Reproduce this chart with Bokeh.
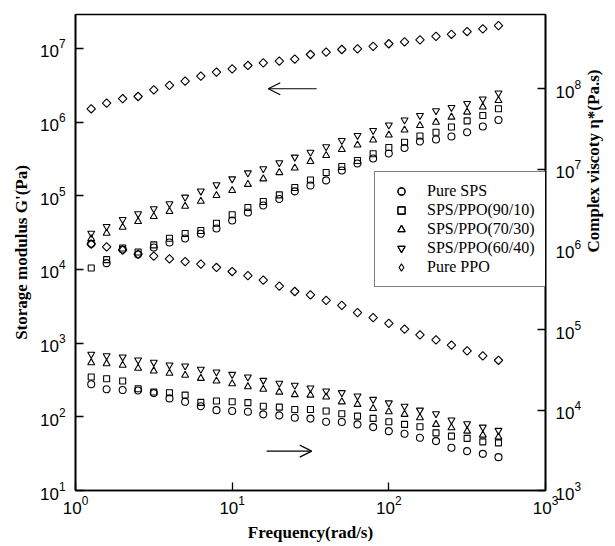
import math
from bokeh.plotting import figure
from bokeh.models import (Range1d, LogAxis, FixedTicker, LogTickFormatter, Legend,
                          LegendItem, Arrow, OpenHead, LogScale)
from bokeh.embed import file_html
from bokeh.resources import INLINE

# ---------------- data ----------------
freq = [1.26, 1.58, 2.0, 2.51, 3.16, 3.98, 5.01, 6.31, 7.94, 10.0, 12.6, 15.8, 20.0,
        25.1, 31.6, 39.8, 50.1, 63.1, 79.4, 100, 126, 158, 200, 251, 316, 398, 501]

# storage modulus G' (left axis)
g_sps = [2.23e4, 1.22e4, 1.87e4, 1.60e4, 1.99e4, 2.33e4, 2.64e4, 3.05e4, 3.60e4, 4.63e4,
         5.94e4, 7.40e4, 9.06e4, 1.15e5, 1.38e5, 1.62e5, 2.21e5, 2.75e5, 3.21e5, 3.76e5,
         4.46e5, 5.47e5, 5.82e5, 6.38e5, 7.31e5, 8.73e5, 1.07e6]
g_90 = [1.05e4, 1.36e4, 1.96e4, 1.73e4, 2.16e4, 2.66e4, 3.08e4, 3.39e4, 4.25e4, 5.53e4,
        6.95e4, 8.38e4, 1.03e5, 1.30e5, 1.64e5, 2.07e5, 2.50e5, 3.02e5, 3.72e5, 4.53e5,
        5.35e5, 6.49e5, 7.31e5, 8.60e5, 1.04e6, 1.23e6, 1.52e6]
g_70 = [2.61e4, 3.11e4, 3.75e4, 4.48e4, 5.24e4, 6.13e4, 7.23e4, 8.45e4, 1.01e5, 1.18e5,
        1.43e5, 1.70e5, 2.07e5, 2.39e5, 2.93e5, 3.53e5, 4.26e5, 4.90e5, 5.73e5, 6.70e5,
        7.84e5, 9.02e5, 1.00e6, 1.17e6, 1.37e6, 1.61e6, 1.97e6]
g_60 = [3.11e4, 3.84e4, 4.78e4, 5.70e4, 6.67e4, 7.80e4, 9.59e4, 1.16e5, 1.41e5, 1.70e5,
        2.05e5, 2.33e5, 2.81e5, 3.35e5, 3.91e5, 4.63e5, 5.64e5, 6.59e5, 7.71e5, 9.16e5,
        1.07e6, 1.23e6, 1.43e6, 1.58e6, 1.79e6, 2.06e6, 2.49e6]
g_ppo = [1.52e6, 1.81e6, 2.08e6, 2.23e6, 2.75e6, 3.15e6, 3.60e6, 4.21e6, 4.77e6, 5.30e6,
         5.88e6, 6.40e6, 6.73e6, 7.16e6, 8.29e6, 8.91e6, 9.69e6, 9.91e6, 1.07e7, 1.16e7,
         1.23e7, 1.31e7, 1.46e7, 1.56e7, 1.70e7, 1.85e7, 2.05e7]

# complex viscosity eta* (right axis)
eta_sps = [2.10e4, 1.82e4, 1.78e4, 1.76e4, 1.63e4, 1.40e4, 1.27e4, 1.12e4, 1.00e4, 9.75e3,
           9.55e3, 8.87e3, 8.61e3, 8.04e3, 7.85e3, 7.16e3, 7.11e3, 6.65e3, 6.15e3, 5.48e3,
           5.08e3, 4.53e3, 4.12e3, 3.40e3, 3.09e3, 2.86e3, 2.60e3]
eta_90 = [2.59e4, 2.46e4, 2.31e4, 1.85e4, 1.68e4, 1.65e4, 1.54e4, 1.25e4, 1.30e4, 1.27e4,
          1.24e4, 1.12e4, 1.09e4, 1.02e4, 1.02e4, 9.75e3, 9.02e3, 8.44e3, 7.90e3, 7.16e3,
          6.65e3, 6.21e3, 5.22e3, 4.75e3, 4.45e3, 4.03e3, 3.92e3]
eta_70 = [3.90e4, 3.79e4, 3.62e4, 3.32e4, 3.08e4, 2.88e4, 2.72e4, 2.49e4, 2.31e4, 2.13e4,
          1.96e4, 1.82e4, 1.68e4, 1.56e4, 1.54e4, 1.46e4, 1.27e4, 1.18e4, 1.05e4, 9.55e3,
          8.87e3, 8.04e3, 6.65e3, 6.04e3, 5.48e3, 4.89e3, 4.62e3]
eta_60 = [4.96e4, 4.76e4, 4.59e4, 4.21e4, 3.94e4, 3.65e4, 3.55e4, 3.23e4, 2.99e4, 2.79e4,
          2.59e4, 2.35e4, 2.16e4, 2.04e4, 1.89e4, 1.73e4, 1.65e4, 1.50e4, 1.36e4, 1.23e4,
          1.12e4, 1.00e4, 9.02e3, 7.53e3, 6.76e3, 6.15e3, 5.60e3]
eta_ppo = [1.17e6, 1.08e6, 9.83e5, 8.76e5, 8.27e5, 7.66e5, 7.08e5, 6.58e5, 5.97e5, 5.32e5,
           4.74e5, 4.15e5, 3.50e5, 3.00e5, 2.72e5, 2.33e5, 2.01e5, 1.64e5, 1.42e5, 1.20e5,
           1.02e5, 8.65e4, 7.48e4, 6.44e4, 5.46e4, 4.73e4, 4.18e4]

labels = ["Pure SPS", "SPS/PPO(90/10)", "SPS/PPO(70/30)", "SPS/PPO(60/40)", "Pure PPO"]
x_ticks = [1, 10, 100, 1000]
left_ticks = [1e1, 1e2, 1e3, 1e4, 1e5, 1e6, 1e7]
right_ticks = [1e3, 1e4, 1e5, 1e6, 1e7, 1e8]

# ---------------- figure ----------------
p = figure(width=615, height=546, x_axis_type="log", y_axis_type="log",
           x_range=Range1d(1, 1000), y_range=Range1d(10, 10 ** 7.4615),
           output_backend="svg", toolbar_location=None,
           min_border_left=75, min_border_right=69, min_border_top=14, min_border_bottom=56)
p.extra_y_ranges = {"eta": Range1d(1e3, 10 ** 8.925)}
p.extra_y_scales = {"eta": LogScale()}

p.grid.visible = False
p.outline_line_color = "black"
p.outline_line_width = 1.6
p.background_fill_color = "white"
p.border_fill_color = "white"

p.xaxis.ticker = FixedTicker(ticks=x_ticks)
p.yaxis.ticker = FixedTicker(ticks=left_ticks)
p.xaxis.axis_label = "Frequency(rad/s)"
p.yaxis.axis_label = "Storage modulus G'(Pa)"

right = LogAxis(y_range_name="eta", ticker=FixedTicker(ticks=right_ticks),
                formatter=LogTickFormatter(), axis_label="Complex viscoty η*(Pa.s)")
right.axis_label_orientation = math.pi / 2
p.add_layout(right, "right")

for ax in [p.xaxis[0], p.yaxis[0], right]:
    ax.major_tick_in = 8
    ax.major_tick_out = 0
    ax.minor_tick_line_color = None
    ax.axis_line_width = 1.6
    ax.major_tick_line_width = 1.3
    ax.major_label_text_font = "Liberation Sans"
    ax.major_label_text_font_size = "17px"
    ax.major_label_text_color = "black"
    ax.axis_label_text_font = "Liberation Serif"
    ax.axis_label_text_font_style = "bold"
    ax.axis_label_text_font_size = "17px"
    ax.axis_label_text_color = "black"

p.xaxis.major_label_standoff = 5
p.xaxis.axis_label_standoff = 6
p.yaxis[0].major_label_standoff = 10
p.yaxis[0].axis_label_standoff = 6
right.major_label_standoff = 10
right.axis_label_standoff = 9

style = dict(fill_alpha=0, line_color="black", line_width=1.1)
series = [
    (g_sps, eta_sps, dict(marker="circle", size=7)),
    (g_90, eta_90, dict(marker="square", size=6)),
    (g_70, eta_70, dict(marker="triangle", size=7)),
    (g_60, eta_60, dict(marker="inverted_triangle", size=7)),
    (g_ppo, eta_ppo, dict(marker="square", size=6, angle=math.pi / 4)),
]
items = []
for i, ((g, eta, mk), lab) in enumerate(zip(series, labels)):
    kw = dict(style)
    kw.update(mk)
    r1 = p.scatter(freq, g, **kw)
    r2 = p.scatter(freq, eta, y_range_name="eta", **kw)
    if i == 4:
        # legend swatch for the diamond series (legend ignores marker angle)
        sw = p.scatter([float("nan")], [float("nan")], marker="diamond", size=9, **style)
        items.append(LegendItem(label=lab, renderers=[sw]))
    else:
        items.append(LegendItem(label=lab, renderers=[r1, r2]))

legend = Legend(items=items, location=(299, 203), margin=0, padding=10,
                glyph_width=32, glyph_height=18, label_height=18, label_standoff=10,
                spacing=1, border_line_color="black", border_line_width=1.2,
                background_fill_color="white", background_fill_alpha=1.0,
                label_text_font="Liberation Serif", label_text_font_size="16px",
                label_text_color="black")
p.add_layout(legend)

# arrows showing which axis each group belongs to
p.add_layout(Arrow(end=OpenHead(size=12, line_width=1.2), x_start=34.6, y_start=2.84e6,
                   x_end=17.0, y_end=2.84e6, line_width=1.2))
p.add_layout(Arrow(end=OpenHead(size=12, line_width=1.2), x_start=16.6, y_start=34.2,
                   x_end=32.2, y_end=34.2, line_width=1.2))

open("out.html", "w").write(file_html(p, INLINE))
